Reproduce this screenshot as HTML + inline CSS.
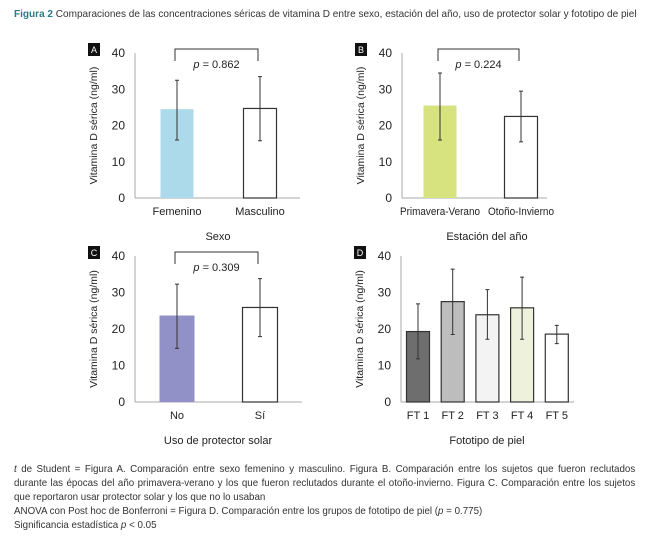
<!DOCTYPE html>
<html><head><meta charset="utf-8"><style>
body{margin:0;background:#fff;width:655px;height:543px;overflow:hidden;font-family:"Liberation Sans",sans-serif;}
#title{position:absolute;left:14px;top:8px;font-size:10.5px;color:#333;white-space:nowrap;transform:scaleX(0.955);transform-origin:0 0;}
#title b{color:#2b7a86;}
#cap{position:absolute;left:14px;top:462px;width:668px;font-size:10.5px;line-height:14px;color:#333;transform:scaleX(0.93);transform-origin:0 0;}
#cap .j{text-align:justify;text-align-last:justify;white-space:nowrap;}
#cap div{white-space:nowrap;}
svg text{font-family:"Liberation Sans",sans-serif;fill:#222;}
</style></head><body>
<div id="title"><b>Figura 2</b> Comparaciones de las concentraciones séricas de vitamina D entre sexo, estación del año, uso de protector solar y fototipo de piel</div>
<svg id="chart" width="655" height="543" style="position:absolute;left:0;top:0"></svg>
<div id="cap">
<div class="j"><i>t</i> de Student = Figura A. Comparación entre sexo femenino y masculino. Figura B. Comparación entre los sujetos que fueron reclutados</div>
<div class="j">durante las épocas del año primavera-verano y los que fueron reclutados durante el otoño-invierno. Figura C. Comparación entre los sujetos</div>
<div>que reportaron usar protector solar y los que no lo usaban</div>
<div>ANOVA con Post hoc de Bonferroni = Figura D. Comparación entre los grupos de fototipo de piel (<i>p</i> = 0.775)</div>
<div>Significancia estadística <i>p</i> &lt; 0.05</div>
</div>
<script>
const ticks=[0,10,20,30,40];
const catsA=["Femenino","Masculino"];const valsA=[24.5,24.7];const loA=[16,15.8];const hiA=[32.5,33.5];
const catsB=["Primavera-Verano","Otoño-Invierno"];const valsB=[25.5,22.5];const loB=[16,15.5];const hiB=[34.5,29.5];
const catsC=["No","Sí"];const valsC=[23.7,25.9];const loC=[14.7,17.9];const hiC=[32.3,33.8];
const catsD=["FT 1","FT 2","FT 3","FT 4","FT 5"];const valsD=[19.3,27.5,23.9,25.8,18.6];const loD=[11.8,18.5,17.2,17.2,16];const hiD=[26.9,36.4,30.8,34.2,21];
const pA="0.862",pB="0.224",pC="0.309";
const NS="http://www.w3.org/2000/svg";const svg=document.getElementById('chart');
function mk(t,a,p){const e=document.createElementNS(NS,t);for(const k in a)e.setAttribute(k,a[k]);(p||svg).appendChild(e);return e;}
function panel(cfg){
 const g=mk('g',{});
 
 
 const y=v=>cfg.y0-(v/40)*(cfg.y0-cfg.y40);
 const x=i=>cfg.first+i*cfg.step;
 mk('line',{x1:cfg.ax,y1:cfg.y40,x2:cfg.ax,y2:cfg.y0,stroke:'#aaa','stroke-width':1},g);
 mk('line',{x1:cfg.ax,y1:cfg.y0,x2:cfg.axEnd,y2:cfg.y0,stroke:'#aaa','stroke-width':1},g);
 ticks.forEach(t=>{const tx=mk('text',{x:cfg.ax-10,y:y(t)+4,'text-anchor':'end','font-size':12},g);tx.textContent=t;
  });
 mk('rect',{x:cfg.ax-47,y:cfg.y40-10,width:12,height:13,fill:'#111'},g);
 const lt=mk('text',{x:cfg.ax-41,y:cfg.y40,'text-anchor':'middle','font-size':9,style:'fill:#fff'},g);lt.textContent=cfg.letter;
 
 const yt=mk('text',{transform:`translate(${cfg.ax-38},${(cfg.y0+cfg.y40)/2}) rotate(-90)`,'text-anchor':'middle','font-size':10.5},g);yt.textContent='Vitamina D sérica (ng/ml)';
 
 cfg.cats.forEach((c,i)=>{const cx=x(i);
  const b=mk('rect',{x:cx-cfg.bw/2,y:y(cfg.vals[i]),width:cfg.bw,height:y(0)-y(cfg.vals[i]),fill:cfg.colors[i],stroke:cfg.strokes[i],'stroke-width':1.2},g);
  
  const e=mk('path',{d:`M${cx},${y(cfg.lo[i])}V${y(cfg.hi[i])}M${cx-2},${y(cfg.lo[i])}H${cx+2}M${cx-2},${y(cfg.hi[i])}H${cx+2}`,stroke:'#333','stroke-width':1,fill:'none'},g);
  
  const ta={x:cx,y:cfg.y0+17,'text-anchor':'middle','font-size':11};
  if(cfg.lens){ta.textLength=cfg.lens[i];ta.lengthAdjust='spacingAndGlyphs';}
  const t=mk('text',ta,g);t.textContent=c;
  });
 const xt=mk('text',{x:cfg.titleX,y:cfg.y0+42,'text-anchor':'middle','font-size':11},g);xt.textContent=cfg.xtitle;
 
 if(cfg.p){const x1=x(0)-2,x2=x(1)-2,yb=cfg.y40-4;
  const br=mk('path',{d:`M${x1},${yb+12}V${yb}H${x2}V${yb+12}`,stroke:'#333','stroke-width':1,fill:'none'},g);
  
  const pt=mk('text',{x:(x1+x2)/2,y:yb+19,'text-anchor':'middle','font-size':11},g);pt.innerHTML='<tspan font-style="italic">p</tspan> = '+cfg.p;
  }
}
panel({letter:'A',ax:135,axEnd:300,y40:53,y0:198,first:177,step:83,bw:33,cats:catsA,vals:valsA,lo:loA,hi:hiA,colors:['#acdaea','#fff'],strokes:['none','#333'],xtitle:'Sexo',titleX:218,p:pA});
panel({letter:'B',ax:402,axEnd:547,y40:53,y0:198,first:440,step:81,bw:33,cats:catsB,vals:valsB,lo:loB,hi:hiB,colors:['#d7e37e','#fff'],strokes:['none','#333'],xtitle:'Estación del año',titleX:487,p:pB,lens:[80,66]});
panel({letter:'C',ax:135,axEnd:302,y40:256,y0:402,first:177,step:83,bw:35,cats:catsC,vals:valsC,lo:loC,hi:hiC,colors:['#9291c7','#fff'],strokes:['none','#333'],xtitle:'Uso de protector solar',titleX:218,p:pC});
panel({letter:'D',ax:401,axEnd:574,y40:256,y0:402,first:418,step:34.7,bw:23,cats:catsD,vals:valsD,lo:loD,hi:hiD,colors:['#6e6e6e','#bdbdbd','#f3f3f3','#eef1dc','#fff'],strokes:['#333','#333','#333','#333','#333'],xtitle:'Fototipo de piel',titleX:487,p:null});
</script>
</body></html>
